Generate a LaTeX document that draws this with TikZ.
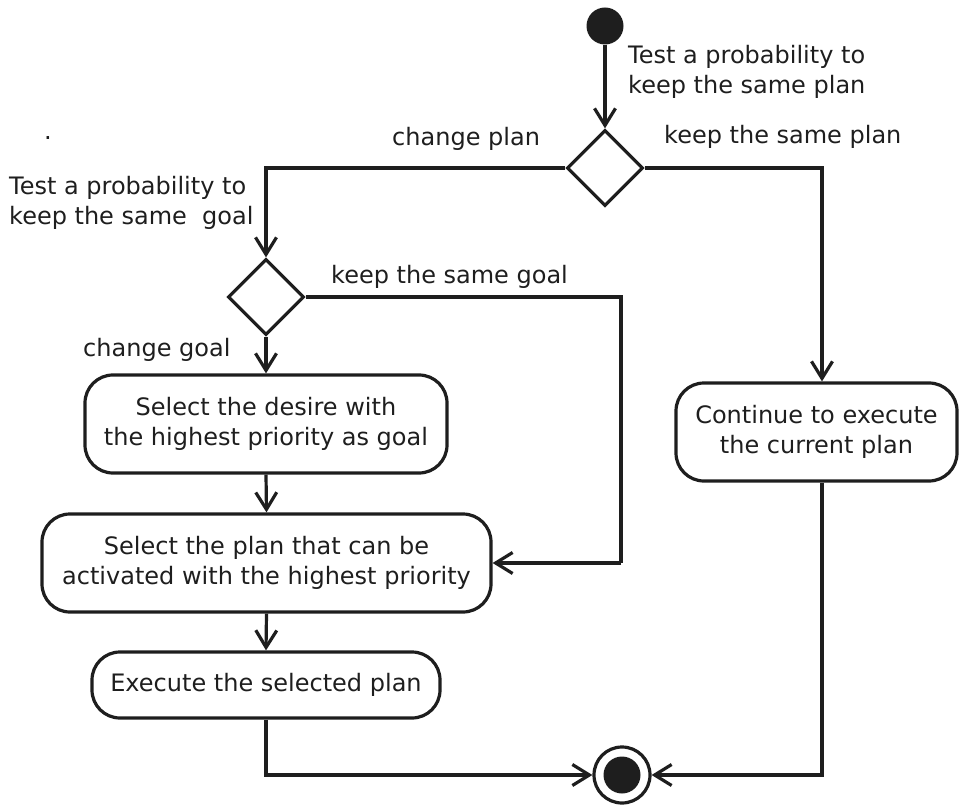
\documentclass[tikz,border=0pt]{standalone}
\usepackage{fontspec}
\setmainfont{DejaVu Sans}
\usetikzlibrary{shapes.geometric,arrows.meta}
\definecolor{ink}{HTML}{1E1E1E}
\begin{document}
\begin{tikzpicture}[x=1pt,y=-1pt,
  every node/.style={font=\fontsize{24pt}{29.5pt}\selectfont, text=ink},
  ln/.style={draw=ink, line width=3.2pt},
  arr/.style={ln, -{Straight Barb[length=17pt,width=21pt,line width=3.2pt]}},
  actbox/.style={draw=ink, line width=3.2pt, rectangle, rounded corners=28pt, align=center, inner sep=0pt},
  decision/.style={draw=ink, line width=3.2pt, diamond, minimum width=76pt, minimum height=76pt, inner sep=0pt},
  lbl/.style={inner sep=0pt, align=left}
]
\useasboundingbox (0,0) rectangle (959,805);
% nodes
\node[circle, fill=ink, minimum size=37pt, inner sep=0pt] (start) at (605,26) {};
\node[decision] (d1) at (605,168) {};
\node[decision] (d2) at (266,297) {};
\node[actbox, minimum width=362pt, minimum height=98pt] (b1) at (266,424) {Select the desire with\\the highest priority as goal};
\node[actbox, minimum width=449pt, minimum height=98pt] (b2) at (266.5,563) {Select the plan that can be\\activated with the highest priority};
\node[actbox, minimum width=348pt, minimum height=66pt] (b3) at (266,685) {Execute the selected plan};
\node[actbox, minimum width=281pt, minimum height=98pt] (cont) at (816.5,432) {Continue to execute\\ the current plan};
\node[circle, draw=ink, line width=3.2pt, minimum size=56pt, inner sep=0pt] (end) at (622,775) {};
\node[circle, fill=ink, minimum size=37pt, inner sep=0pt] (endin) at (end.center) {};
\coordinate (kg) at (621,563);
% connectors
\draw[arr] (start) -- (d1.north);
\draw[arr] (d1.west) -| (d2.north);
\draw[arr] (d1.east) -| ([xshift=5.5pt]cont.north);
\draw[arr] (d2.south) -- (b1.north);
\draw[ln] (d2.east) -| (kg);
\draw[arr] (kg) -- (b2.east);
\draw[arr] (b1.south) -- (b2.north);
\draw[arr] (b2.south) -- (b3.north);
\draw[arr] (b3.south) |- (end.west);
\draw[arr] ([xshift=5.5pt]cont.south) |- (end.east);
% labels
\node[lbl, anchor=west] (l1) at (628,72) {Test a probability to\\keep the same plan};
\node[lbl, anchor=west] (l2) at (664,137) {keep the same plan};
\node[lbl, anchor=west] (l3) at (392,139) {change plan};
\node[lbl, anchor=west] (l4) at (9,203) {Test a probability to\\keep the same \ goal};
\node[lbl, anchor=west] (l5) at (331,277) {keep the same goal};
\node[lbl, anchor=west] (l6) at (83,350) {change goal};
\node[lbl] (dot) at (48,138) {.};
\end{tikzpicture}
\end{document}
